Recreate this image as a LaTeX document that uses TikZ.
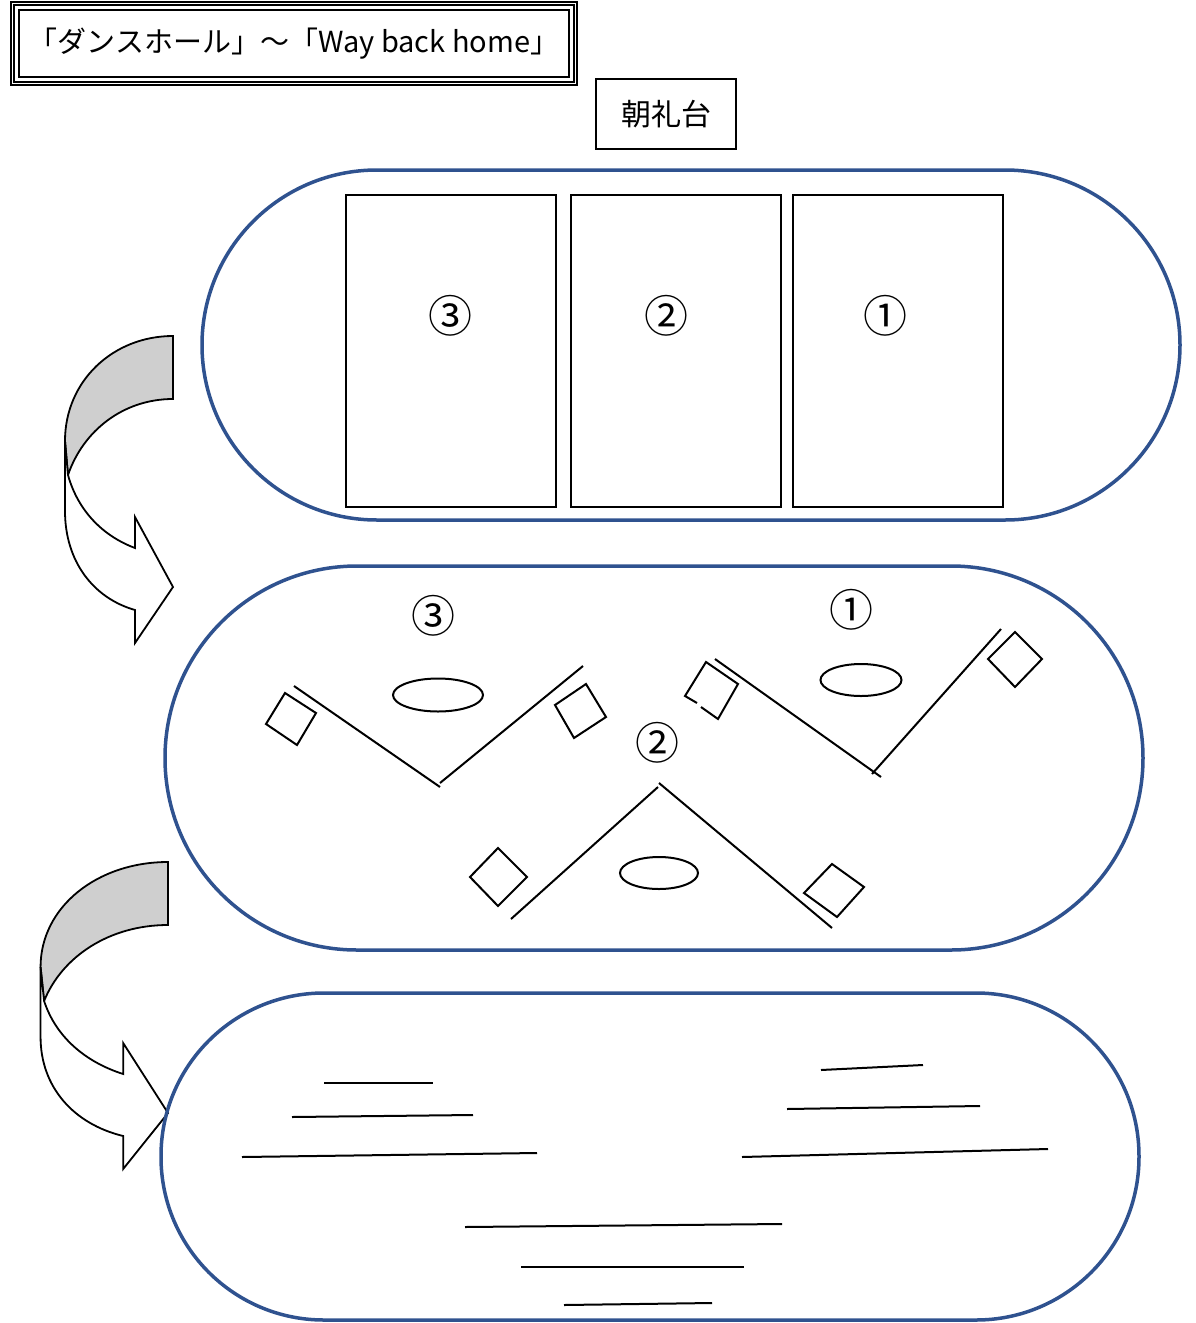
\documentclass[tikz,border=0pt]{standalone}
\usepackage{fontspec}
\setmainfont{Noto Sans CJK JP}
\definecolor{trackblue}{RGB}{47,82,143}
\definecolor{backgray}{gray}{0.81}
\tikzset{
  track/.style={draw=trackblue, line width=3.5pt},
  zone/.style={draw, line width=2pt, minimum width=210pt, minimum height=312pt, inner sep=0pt},
  num/.style={font=\fontsize{44}{46}\selectfont, inner sep=0pt},
  rowline/.style={line width=2pt},
  mat/.style={draw, line width=2pt},
  ring/.style={draw, line width=2pt},
}
\begin{document}
\begin{tikzpicture}[x=1pt, y=-1pt]
    \useasboundingbox (0,0) rectangle (1195,1323);

    % Title
    \node[draw, line width=2pt, minimum width=550pt, minimum height=67pt, inner sep=0pt,
          font=\fontsize{29}{30}\selectfont] (title) at (294,43.5) {\raisebox{-3pt}{「ダンスホール」～「Way back home」}};
    \draw[line width=1.2pt] ([shift={(-7,-7)}]title.north west) rectangle ([shift={(7,7)}]title.south east);
    \draw[line width=1.2pt] ([shift={(-4,-4)}]title.north west) rectangle ([shift={(4,4)}]title.south east);

    % Stage
    \node[draw, line width=2pt, minimum width=140pt, minimum height=70pt, inner sep=0pt,
          font=\fontsize{30}{31}\selectfont] (stage) at (666,114) {朝礼台};

    % Turn arrows
    \foreach \ox/\oy/\sx in {173/336/1, 168/862/1.18} {
      \begin{scope}[shift={(\ox,\oy)}, xscale=\sx]
        \filldraw[fill=backgray, line width=1.8pt] (0,0) .. controls (-60,0) and (-108,45) .. (-108,105)
          -- (-105,139) .. controls (-90,95) and (-50,63) .. (0,63) -- cycle;
        \filldraw[fill=white, line width=1.8pt] (-105,139) .. controls (-95,175) and (-70,200) .. (-38,212)
          -- (-38,181) -- (0,251) -- (-38,307) -- (-38,274)
          .. controls (-80,262) and (-108,225) .. (-108,175) -- (-108,105) -- cycle;
      \end{scope}
    }

    % Top track
    \draw[track, rounded corners=175pt] (202,170) rectangle (1180,520);
    \node[zone] (zone3) at (451,351) {};
    \node[zone] (zone2) at (675.5,351) {};
    \node[zone] (zone1) at (897.5,351) {};
    \node[num] (z3) at (450,316) {③};
    \node[num] (z2) at (666,316) {②};
    \node[num] (z1) at (885,316) {①};

    % Middle track
    \draw[track, rounded corners=192pt] (165,566) rectangle (1143,950);
    \node[num] (g3) at (433,616) {③};
    \node[num] (g1) at (851,610) {①};
    \node[num] (g2) at (657,743) {②};
    % group 3
    \draw[rowline] (294,686) -- (440,787);
    \draw[rowline] (440,783) -- (583,666);
    \draw[ring] (438,695) ellipse [x radius=45, y radius=16.5];
    \draw[mat] (285,693) -- (316,713) -- (297,745) -- (266,724) -- cycle;
    \draw[mat] (555,705) -- (586,684) -- (606,717) -- (574,738) -- cycle;
    % group 1
    \draw[rowline] (715,659) -- (881,777);
    \draw[rowline] (1001,629) -- (872,774);
    \draw[ring] (861,680) ellipse [x radius=40.5, y radius=16];
    \draw[mat] (697,703) -- (685,696) -- (706,662) -- (738,684) -- (718,719) -- (701,707);
    \draw[mat] (1015,632) -- (1042,659) -- (1015,687) -- (988,659) -- cycle;
    % group 2
    \draw[rowline] (511,919) -- (658,787);
    \draw[rowline] (659,783) -- (832,928);
    \draw[ring] (659,873) ellipse [x radius=39, y radius=16];
    \draw[mat] (498,848) -- (527,877) -- (498,906) -- (470,877) -- cycle;
    \draw[mat] (832,864) -- (864,887) -- (837,917) -- (804,893) -- cycle;

    % Bottom track
    \draw[track, rounded corners=163pt] (161,993) rectangle (1139,1320);
    \foreach \xa/\ya/\xb/\yb in {324/1083/433/1083, 292/1117/473/1115, 242/1157/537/1153,
        821/1070/923/1065, 787/1109/980/1106, 742/1157/1048/1149,
        465/1227/782/1224, 521/1267/744/1267, 564/1305/712/1303}
      \draw[rowline] (\xa,\ya) -- (\xb,\yb);
\end{tikzpicture}
\end{document}
